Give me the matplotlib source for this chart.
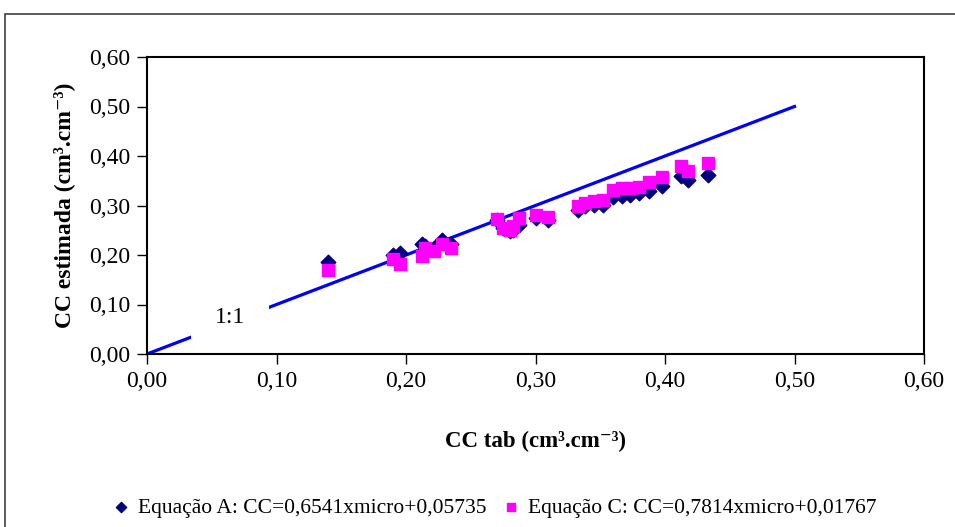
import matplotlib.pyplot as plt
import matplotlib.patches as mpatches
from matplotlib.ticker import FuncFormatter

# CC tab (x), shared by both series
cc_tab = [0.140, 0.190, 0.195, 0.212, 0.215, 0.222, 0.228, 0.235,
          0.270, 0.275, 0.280, 0.283, 0.287, 0.300, 0.310,
          0.333, 0.338, 0.345, 0.352, 0.360, 0.367, 0.373, 0.380,
          0.388, 0.398, 0.412, 0.418, 0.433]

# Equação A (diamonds)
eq_a = [0.185, 0.200, 0.205, 0.222, 0.218, 0.215, 0.230, 0.222,
        0.270, 0.255, 0.248, 0.250, 0.260, 0.275, 0.270,
        0.290, 0.298, 0.302, 0.302, 0.318, 0.320, 0.322, 0.325,
        0.330, 0.340, 0.360, 0.352, 0.362]

# Equação C (squares)
eq_c = [0.170, 0.192, 0.182, 0.198, 0.215, 0.208, 0.222, 0.215,
        0.272, 0.255, 0.250, 0.258, 0.275, 0.280, 0.277,
        0.300, 0.305, 0.310, 0.312, 0.332, 0.335, 0.335, 0.338,
        0.347, 0.357, 0.380, 0.370, 0.385]

line_11 = [0.0, 0.5]
ticks = [0.0, 0.1, 0.2, 0.3, 0.4, 0.5, 0.6]

plt.rcParams['font.family'] = ['Liberation Serif', 'DejaVu Serif']

fig = plt.figure(figsize=(9.55, 5.27), dpi=100)
ax = fig.add_axes([147 / 955, 1 - 354 / 527, 777 / 955, 297 / 527])

# outer chart frame
fig.patches.append(mpatches.Rectangle((5 / 955, -0.05), 1.0, 1 - 14 / 527 + 0.05,
                                      transform=fig.transFigure, fill=False,
                                      edgecolor='#404040', linewidth=1.2))

ax.plot(line_11, line_11, color='#0000FF', linewidth=2.3, zorder=2)
ax.scatter(cc_tab, eq_a, marker='D', s=55, color='#000080', zorder=3,
           label='Equação A: CC=0,6541xmicro+0,05735')
ax.scatter(cc_tab, eq_c, marker='s', s=75, color='#FF00FF', zorder=4,
           label='Equação C: CC=0,7814xmicro+0,01767')

ax.text(0.064, 0.073, '1:1', fontsize=17, ha='center', va='center', zorder=5,
        bbox=dict(facecolor='white', edgecolor='none', pad=17))

ax.set_xlim(0, 0.6)
ax.set_ylim(0, 0.6)
ax.set_xticks(ticks)
ax.set_yticks(ticks)
fmt = FuncFormatter(lambda v, p: f'{v:.2f}'.replace('.', ','))
ax.xaxis.set_major_formatter(fmt)
ax.yaxis.set_major_formatter(fmt)
ax.tick_params(direction='out', length=7, width=1, labelsize=17, pad=5)
for s in ax.spines.values():
    s.set_linewidth(1.5)

ax.set_xlabel('CC tab (cm³.cm⁻³)', fontsize=16.5, fontweight='bold', labelpad=28)
ax.set_ylabel('CC estimada (cm³.cm⁻³)', fontsize=17, fontweight='bold', labelpad=10)

fig.legend(loc='center', bbox_to_anchor=(488 / 955, 1 - 508 / 527), ncol=2,
           frameon=False, fontsize=15.5, handletextpad=-0.2, columnspacing=0.1,
           markerscale=0.7)

fig.savefig('out.png', dpi=100)
